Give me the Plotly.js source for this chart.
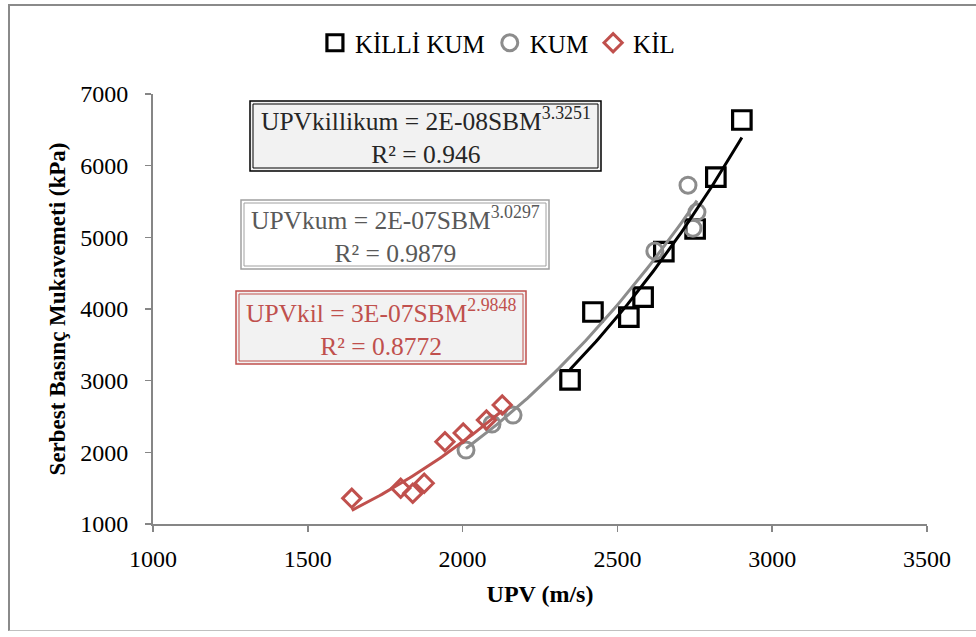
<!DOCTYPE html>
<html>
<head>
<meta charset="utf-8">
<script src="https://cdn.plot.ly/plotly-3.0.1.min.js"></script>
<style>
html,body{margin:0;padding:0;background:#fff;}
#frame{position:absolute;left:8px;top:4px;width:990px;height:627px;border-left:2px solid #8a8a8a;border-top:2px solid #8a8a8a;border-bottom:1px solid #c0c0c0;box-sizing:border-box;pointer-events:none;z-index:5;}
#chart{position:absolute;left:0;top:0;width:976px;height:637px;}
</style>
</head>
<body>
<div id="chart"></div>
<div id="frame"></div>
<script>
// Data (UPV in m/s, SBM in kPa)
var killiKumUPV = [2347, 2421, 2537, 2583, 2650, 2751, 2818, 2902];
var killiKumSBM = [3010, 3958, 3888, 4167, 4800, 5116, 5841, 6637];
var kumUPV = [2011, 2095, 2163, 2621, 2728, 2744, 2757];
var kumSBM = [2032, 2395, 2520, 4808, 5728, 5128, 5352];
var kilUPV = [1642, 1800, 1839, 1876, 1943, 2002, 2077, 2128];
var kilSBM = [1358, 1498, 1428, 1568, 2148, 2270, 2450, 2660];
var seriesNames = ["KİLLİ KUM", "KUM", "KİL"];
var xTicks = [1000, 1500, 2000, 2500, 3000, 3500];
var yTicks = [1000, 2000, 3000, 4000, 5000, 6000, 7000];

// Power-law least squares (log-log) trendline, as in Excel
function powerFit(xs, ys) {
  var n = xs.length, sx = 0, sy = 0, sxx = 0, sxy = 0;
  for (var i = 0; i < n; i++) {
    var lx = Math.log(xs[i]), ly = Math.log(ys[i]);
    sx += lx; sy += ly; sxx += lx * lx; sxy += lx * ly;
  }
  var b = (n * sxy - sx * sy) / (n * sxx - sx * sx);
  var a = Math.exp((sy - b * sx) / n);
  var lo = Math.min.apply(null, xs), hi = Math.max.apply(null, xs);
  var tx = [], ty = [];
  for (var k = 0; k <= 60; k++) {
    var x = lo + (hi - lo) * k / 60;
    tx.push(x); ty.push(a * Math.pow(x, b));
  }
  return {x: tx, y: ty};
}

var cBlack = "#000000", cGray = "#8c8c8c", cRed = "#c0504d";
var fKK = powerFit(killiKumUPV, killiKumSBM);
var fK = powerFit(kumUPV, kumSBM);
var fKil = powerFit(kilUPV, kilSBM);

var traces = [
  {x: killiKumUPV, y: killiKumSBM, name: seriesNames[0], type: "scatter", mode: "markers",
   marker: {symbol: "square-open", size: 18.5, color: cBlack, line: {width: 3.2, color: cBlack}}},
  {x: kumUPV, y: kumSBM, name: seriesNames[1], type: "scatter", mode: "markers",
   marker: {symbol: "circle-open", size: 16, color: cGray, line: {width: 3, color: cGray}}},
  {x: kilUPV, y: kilSBM, name: seriesNames[2], type: "scatter", mode: "markers",
   marker: {symbol: "diamond-open", size: 14, color: cRed, line: {width: 3, color: cRed}}},
  {x: fK.x, y: fK.y, type: "scatter", mode: "lines", showlegend: false, hoverinfo: "skip",
   line: {color: cGray, width: 3}},
  {x: fKK.x, y: fKK.y, type: "scatter", mode: "lines", showlegend: false, hoverinfo: "skip",
   line: {color: cBlack, width: 3}},
  {x: fKil.x, y: fKil.y, type: "scatter", mode: "lines", showlegend: false, hoverinfo: "skip",
   line: {color: cRed, width: 3}}
];

// pixel helpers for layout boxes (plot area 153..927 x 94..524)
function px(v) { return (v - 153) / 774; }
function py(v) { return (524 - v) / 430; }
function box(x0, y0, x1, y1, col, fill, w) {
  return {type: "rect", xref: "paper", yref: "paper", x0: px(x0), x1: px(x1), y0: py(y1), y1: py(y0),
          line: {color: col, width: w}, fillcolor: fill, layer: "above"};
}

var serif = "'Liberation Serif', 'Times New Roman', Times, serif";
var shapes = [
  box(250, 101, 601, 171, "#000000", "#f2f2f2", 1.5),
  box(253, 104, 598, 168, "#000000", "rgba(0,0,0,0)", 1),
  box(241, 200, 549, 269, "#a0a0a0", "#ffffff", 1.5),
  box(244, 203, 546, 266, "#a0a0a0", "rgba(0,0,0,0)", 1),
  box(236, 291, 526, 364, cRed, "#f2f2f2", 1.5),
  box(239, 294, 523, 361, cRed, "rgba(0,0,0,0)", 1)
];
var annotations = [
  {xref: "paper", yref: "paper", x: px(425.5), y: py(136), xanchor: "center", yanchor: "middle", showarrow: false,
   text: "UPVkillikum = 2E-08SBM<sup>3.3251</sup><br>R² = 0.946", font: {family: serif, size: 25.5, color: "#262626"}},
  {xref: "paper", yref: "paper", x: px(395), y: py(234.5), xanchor: "center", yanchor: "middle", showarrow: false,
   text: "UPVkum = 2E-07SBM<sup>3.0297</sup><br>R² = 0.9879", font: {family: serif, size: 25.5, color: "#595959"}},
  {xref: "paper", yref: "paper", x: px(381), y: py(327.5), xanchor: "center", yanchor: "middle", showarrow: false,
   text: "UPVkil = 3E-07SBM<sup>2.9848</sup><br>R² = 0.8772", font: {family: serif, size: 25.5, color: cRed}}
];

var layout = {
  width: 976, height: 637,
  margin: {l: 153, r: 49, t: 94, b: 113},
  paper_bgcolor: "#ffffff", plot_bgcolor: "#ffffff",
  font: {family: serif, color: "#000000"},
  showlegend: true,
  legend: {orientation: "h", x: 0.445, xanchor: "center", y: py(43), yanchor: "middle",
           font: {family: serif, size: 25, color: "#000"}, itemwidth: 30, tracegroupgap: 0},
  xaxis: {range: [1000, 3500], tickvals: xTicks, ticktext: xTicks.map(String),
          showgrid: false, zeroline: false, showline: true, linecolor: "#868686", linewidth: 2,
          ticks: "outside", ticklen: 6, tickcolor: "#868686", tickwidth: 1.5, ticklabelstandoff: 6,
          tickfont: {family: serif, size: 24, color: "#000"},
          title: {text: "<b>UPV (m/s)</b>", font: {family: serif, size: 24, color: "#000"}, standoff: 14}},
  yaxis: {range: [1000, 7000], tickvals: yTicks, ticktext: yTicks.map(String),
          showgrid: false, zeroline: false, showline: true, linecolor: "#868686", linewidth: 2,
          ticks: "outside", ticklen: 6, tickcolor: "#868686", tickwidth: 1.5, ticklabelstandoff: 12,
          tickfont: {family: serif, size: 24, color: "#000"},
          title: {text: "<b>Serbest Basınç Mukavemeti (kPa)</b>", font: {family: serif, size: 23, color: "#000"}, standoff: 8}},
  shapes: shapes,
  annotations: annotations
};

Plotly.newPlot("chart", traces, layout, {displayModeBar: false, staticPlot: true});
</script>
</body>
</html>
